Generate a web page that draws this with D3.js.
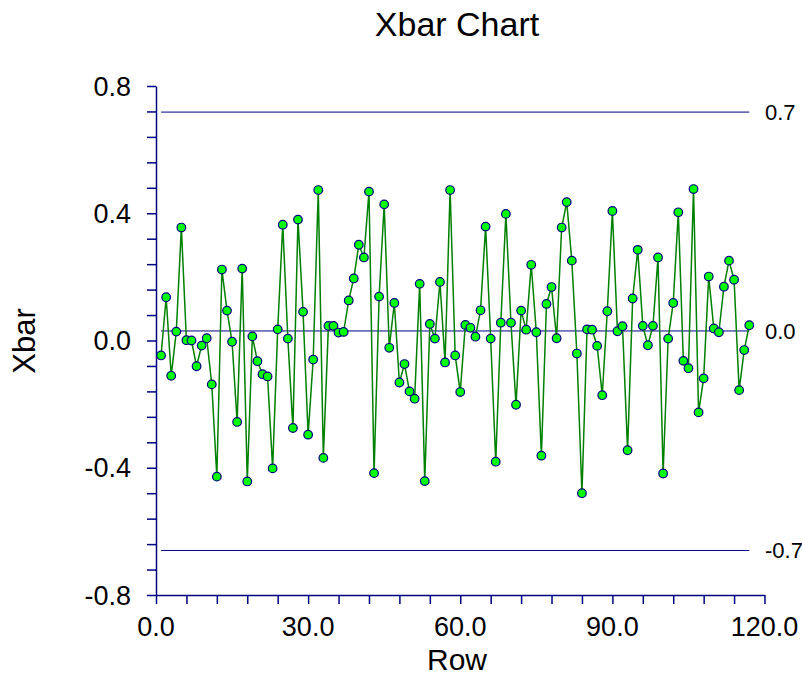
<!DOCTYPE html>
<html>
<head>
<meta charset="utf-8">
<script src="https://cdn.jsdelivr.net/npm/d3@7"></script>
<style>
  body { margin: 0; background: #fff; }
  text { font-family: "Liberation Sans", Arial, sans-serif; }
</style>
</head>
<body>
<div id="chart"></div>
<script>
// subgroup means, rows 1..117
const xbar = [
  -0.047, 0.136, -0.111, 0.028, 0.355, 0.001, 0.000, -0.081, -0.016, 0.007,
  -0.138, -0.428, 0.223, 0.094, -0.004, -0.256, 0.226, -0.443, 0.013, -0.065,
  -0.106, -0.113, -0.402, 0.035, 0.364, 0.006, -0.275, 0.380, 0.090, -0.296,
  -0.060, 0.473, -0.369, 0.046, 0.046, 0.025, 0.027, 0.126, 0.195, 0.301,
  0.261, 0.468, -0.417, 0.138, 0.428, -0.023, 0.118, -0.132, -0.074, -0.160,
  -0.183, 0.178, -0.442, 0.052, 0.006, 0.184, -0.069, 0.473, -0.047, -0.162,
  0.049, 0.040, 0.012, 0.095, 0.358, 0.006, -0.381, 0.056, 0.398, 0.056,
  -0.202, 0.094, 0.034, 0.238, 0.026, -0.362, 0.115, 0.168, 0.007, 0.355,
  0.435, 0.251, -0.041, -0.480, 0.035, 0.034, -0.017, -0.172, 0.092, 0.407,
  0.029, 0.045, -0.345, 0.132, 0.285, 0.046, -0.015, 0.046, 0.261, -0.418,
  0.006, 0.118, 0.403, -0.064, -0.087, 0.476, -0.226, -0.119, 0.201, 0.038,
  0.026, 0.169, 0.251, 0.191, -0.156, -0.030, 0.048
];
const rows = xbar.map((d, i) => i + 1);

// control limits: upper, centre, lower
const limitValues = [0.718, 0.030, -0.660];
const limitLabels = ["0.7", "0.0", "-0.7"];

const xTickValues = d3.range(0, 121, 6);
const xLabelValues = [0, 30, 60, 90, 120];
const yTickValues = d3.range(-0.8, 0.8001, 0.08);
const yLabelValues = [-0.8, -0.4, 0, 0.4, 0.8];

const W = 802, H = 675;
const navy = "#000080";

const svg = d3.select("#chart").append("svg")
  .attr("width", W)
  .attr("height", H);

const x = d3.scaleLinear().domain([0, 120]).range([156, 764.5]);
const y = d3.scaleLinear().domain([-0.8, 0.8]).range([595, 86]);

// title + axis titles
svg.append("text")
  .attr("x", 457).attr("y", 36)
  .attr("text-anchor", "middle")
  .style("font-size", "34px")
  .text("Xbar Chart");

svg.append("text")
  .attr("transform", "translate(35,341) rotate(-90)")
  .attr("text-anchor", "middle")
  .style("font-size", "31px")
  .text("Xbar");

svg.append("text")
  .attr("x", 457).attr("y", 670)
  .attr("text-anchor", "middle")
  .style("font-size", "30px")
  .text("Row");

// axes
const xAxis = svg.append("g")
  .attr("transform", `translate(0,${y(-0.8)})`)
  .call(d3.axisBottom(x).tickValues(xTickValues).tickSize(9).tickSizeOuter(0).tickFormat(""));

const yAxis = svg.append("g")
  .attr("transform", `translate(${x(0)},0)`)
  .call(d3.axisLeft(y).tickValues(yTickValues).tickSize(9).tickSizeOuter(0).tickFormat(""));

[xAxis, yAxis].forEach(g => {
  g.select(".domain").attr("stroke", navy).attr("stroke-width", 1.5);
  g.selectAll(".tick line").attr("stroke", navy).attr("stroke-width", 1.5);
});

svg.append("g").selectAll("text")
  .data(xLabelValues)
  .join("text")
  .attr("x", d => x(d))
  .attr("y", 636)
  .attr("text-anchor", "middle")
  .style("font-size", "27px")
  .text(d => d.toFixed(1));

svg.append("g").selectAll("text")
  .data(yLabelValues)
  .join("text")
  .attr("x", 131)
  .attr("y", d => y(d))
  .attr("dy", "0.36em")
  .attr("text-anchor", "end")
  .style("font-size", "27px")
  .text(d => d.toFixed(1));

// control limit lines
const limits = svg.append("g");
limits.selectAll("line")
  .data(limitValues)
  .join("line")
  .attr("x1", x(1)).attr("x2", x(117))
  .attr("y1", d => y(d)).attr("y2", d => y(d))
  .attr("stroke", navy)
  .attr("stroke-width", 1);

limits.selectAll("text")
  .data(limitValues)
  .join("text")
  .attr("x", 765)
  .attr("y", d => y(d))
  .attr("dy", "0.36em")
  .style("font-size", "22px")
  .text((d, i) => limitLabels[i]);

// series
const line = d3.line()
  .x((d, i) => x(rows[i]))
  .y(d => y(d));

svg.append("path")
  .datum(xbar)
  .attr("fill", "none")
  .attr("stroke", "#008000")
  .attr("stroke-width", 1.5)
  .attr("d", line);

svg.append("g").selectAll("circle")
  .data(xbar)
  .join("circle")
  .attr("cx", (d, i) => x(rows[i]))
  .attr("cy", d => y(d))
  .attr("r", 4.3)
  .attr("fill", "#00ff00")
  .attr("stroke", navy)
  .attr("stroke-width", 1.2);
</script>
</body>
</html>
